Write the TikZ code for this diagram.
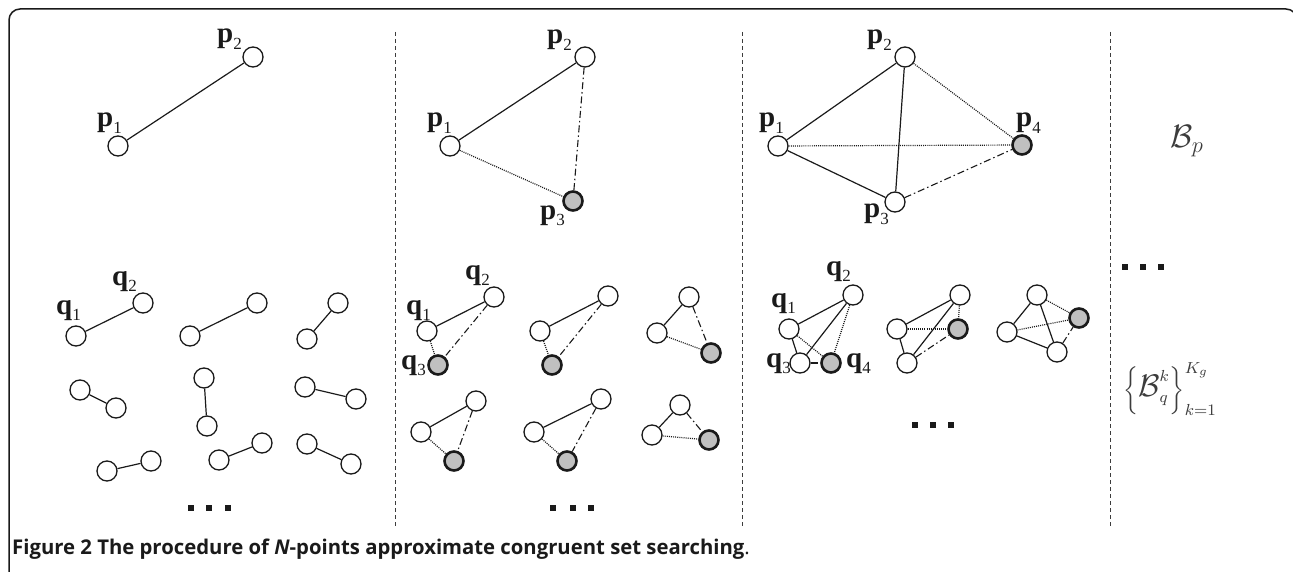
\documentclass[tikz,border=0pt]{standalone}
\usepackage{fontspec}
\usepackage{graphicx}
\setmainfont{Liberation Serif}
\newfontfamily\capfont{Open Sans}
\definecolor{ink}{HTML}{1A1A1A}
\definecolor{gfill}{HTML}{C0C0C0}
\newcommand{\pq}[2]{\textbf{#1}\raisebox{-0.22em}{\fontsize{17}{17}\selectfont #2}}
\tikzset{
  wn/.style={circle,draw=ink,fill=white,line width=1.3pt,minimum size=20pt,inner sep=0pt},
  gn/.style={circle,draw=ink,fill=gfill,line width=2.6pt,minimum size=19pt,inner sep=0pt},
  sol/.style={draw=ink,line width=1.2pt},
  dotl/.style={draw=ink,line width=1.2pt,dash pattern=on 1pt off 1.1pt},
  ddl/.style={draw=ink,line width=1.1pt,dash pattern=on 7pt off 3pt on 1.5pt off 3pt},
  lb/.style={anchor=base west,inner sep=0pt,font=\fontsize{29}{29}\selectfont,text=ink},
  sep/.style={draw=ink!85,line width=1pt,dash pattern=on 4pt off 3pt},
  dotsq/.style={fill=ink,minimum size=6pt,inner sep=0pt,draw=none,rectangle}
}
\begin{document}
\begin{tikzpicture}[x=1pt,y=-1pt]
\useasboundingbox (0,0) rectangle (1293,572);
\clip (0,0) rectangle (1293,572);
\draw[ink,line width=1.5pt,rounded corners=11pt] (9,9) rectangle (1297,700);
% separators
\coordinate (s1a) at (395,32); \coordinate (s1b) at (395,527);
\coordinate (s2a) at (742,32); \coordinate (s2b) at (742,527);
\coordinate (s3a) at (1110,32); \coordinate (s3b) at (1110,527);
\draw[sep] (s1a) -- (s1b);
\draw[sep] (s2a) -- (s2b);
\draw[sep] (s3a) -- (s3b);
% ---------- panel 1 ----------
\node[wn] (A1) at (118,146) {};
\node[wn] (A2) at (253,57) {};
\draw[sol] (A1) -- (A2);
\node[lb] (LA1) at (97,127) {\pq{p}{1}};
\node[lb] (LA2) at (217,43) {\pq{p}{2}};
% pairs
\node[wn] (a1) at (76,336) {}; \node[wn] (a2) at (143,303) {}; \draw[sol] (a1) -- (a2);
\node[lb] (La1) at (56,314) {\pq{q}{1}};
\node[lb] (La2) at (112,285) {\pq{q}{2}};
\node[wn] (b1) at (190,336) {}; \node[wn] (b2) at (257,303) {}; \draw[sol] (b1) -- (b2);
\node[wn] (c1) at (307,339) {}; \node[wn] (c2) at (338,303) {}; \draw[sol] (c1) -- (c2);
\node[wn] (d1) at (80,390) {}; \node[wn] (d2) at (116,408) {}; \draw[sol] (d1) -- (d2);
\node[wn] (e1) at (204,378) {}; \node[wn] (e2) at (207,426) {}; \draw[sol] (e1) -- (e2);
\node[wn] (f1) at (305,387) {}; \node[wn] (f2) at (356,399) {}; \draw[sol] (f1) -- (f2);
\node[wn] (g1) at (107,471) {}; \node[wn] (g2) at (151,461) {}; \draw[sol] (g1) -- (g2);
\node[wn] (h1) at (219,460) {}; \node[wn] (h2) at (262,443) {}; \draw[sol] (h1) -- (h2);
\node[wn] (i1) at (307,444) {}; \node[wn] (i2) at (351,464) {}; \draw[sol] (i1) -- (i2);
\node[dotsq] (D1a) at (191,508) {}; \node[dotsq] (D1b) at (209,508) {}; \node[dotsq] (D1c) at (228,508) {};
% ---------- panel 2 ----------
\node[wn] (B1) at (450,146) {};
\node[wn] (B2) at (585,57) {};
\node[gn] (B3) at (573,201) {};
\draw[sol] (B1) -- (B2);
\draw[ddl] (B2) -- (B3);
\draw[dotl] (B1) -- (B3);
\node[lb] (LB1) at (427,127) {\pq{p}{1}};
\node[lb] (LB2) at (547,44) {\pq{p}{2}};
\node[lb] (LB3) at (540,219) {\pq{p}{3}};
% triangles
\node[wn] (j1) at (427,331) {}; \node[wn] (j2) at (494,297) {}; \node[gn] (j3) at (438,365) {};
\draw[sol] (j1) -- (j2); \draw[ddl] (j2) -- (j3); \draw[dotl] (j1) -- (j3);
\node[lb] (Lj1) at (406,314) {\pq{q}{1}};
\node[lb] (Lj2) at (465,279) {\pq{q}{2}};
\node[lb] (Lj3) at (401,369) {\pq{q}{3}};
\node[wn] (k1) at (540,331) {}; \node[wn] (k2) at (608,296) {}; \node[gn] (k3) at (552,365) {};
\draw[sol] (k1) -- (k2); \draw[ddl] (k2) -- (k3); \draw[dotl] (k1) -- (k3);
\node[wn] (l1) at (657,333) {}; \node[wn] (l2) at (689,297) {}; \node[gn] (l3) at (711,353) {};
\draw[sol] (l1) -- (l2); \draw[ddl] (l2) -- (l3); \draw[dotl] (l1) -- (l3);
\node[wn] (m1) at (421,432) {}; \node[wn] (m2) at (476,401) {}; \node[gn] (m3) at (454,461) {};
\draw[sol] (m1) -- (m2); \draw[ddl] (m2) -- (m3); \draw[dotl] (m1) -- (m3);
\node[wn] (n1) at (534,432) {}; \node[wn] (n2) at (601,399) {}; \node[gn] (n3) at (567,461) {};
\draw[sol] (n1) -- (n2); \draw[ddl] (n2) -- (n3); \draw[dotl] (n1) -- (n3);
\node[wn] (o1) at (652,435) {}; \node[wn] (o2) at (680,405) {}; \node[gn] (o3) at (709,440) {};
\draw[sol] (o1) -- (o2); \draw[ddl] (o2) -- (o3); \draw[dotl] (o1) -- (o3);
\node[dotsq] (D2a) at (553,508) {}; \node[dotsq] (D2b) at (573,508) {}; \node[dotsq] (D2c) at (591,508) {};
% ---------- panel 3 ----------
\node[wn] (C1) at (778,146) {};
\node[wn] (C2) at (905,57) {};
\node[wn] (C3) at (895,202) {};
\node[gn] (C4) at (1022,145) {};
\draw[sol] (C1) -- (C2);
\draw[sol] (C1) -- (C3);
\draw[sol] (C2) -- (C3);
\draw[dotl] (C1) -- (C4);
\draw[dotl] (C2) -- (C4);
\draw[ddl] (C3) -- (C4);
\node[lb] (LC1) at (759,127) {\pq{p}{1}};
\node[lb] (LC2) at (867,44) {\pq{p}{2}};
\node[lb] (LC3) at (864,218) {\pq{p}{3}};
\node[lb] (LC4) at (1016,127) {\pq{p}{4}};
% tetrahedra
\node[wn] (r1) at (789,329) {}; \node[wn] (r2) at (853,295) {}; \node[wn] (r3) at (800,363) {}; \node[gn] (r4) at (831,363) {};
\draw[sol] (r1) -- (r2); \draw[sol] (r1) -- (r3); \draw[sol] (r2) -- (r3);
\draw[dotl] (r1) -- (r4); \draw[dotl] (r2) -- (r4); \draw[ddl] (r3) -- (r4);
\node[lb] (Lr1) at (771,307) {\pq{q}{1}};
\node[lb] (Lr2) at (826,275) {\pq{q}{2}};
\node[lb] (Lr3) at (766,367) {\pq{q}{3}};
\node[lb] (Lr4) at (846,367) {\pq{q}{4}};
\node[wn] (s1) at (897,329) {}; \node[wn] (s2) at (960,295) {}; \node[wn] (s3) at (907,363) {}; \node[gn] (s4) at (958,329) {};
\draw[sol] (s1) -- (s2); \draw[sol] (s1) -- (s3); \draw[sol] (s2) -- (s3);
\draw[dotl] (s1) -- (s4); \draw[dotl] (s2) -- (s4); \draw[ddl] (s3) -- (s4);
\node[wn] (t1) at (1007,332) {}; \node[wn] (t2) at (1037,295) {}; \node[wn] (t3) at (1057,352) {}; \node[gn] (t4) at (1079,318) {};
\draw[sol] (t1) -- (t2); \draw[sol] (t1) -- (t3); \draw[sol] (t2) -- (t3);
\draw[dotl] (t1) -- (t4); \draw[dotl] (t2) -- (t4); \draw[ddl] (t3) -- (t4);
\node[dotsq] (D3a) at (915,425) {}; \node[dotsq] (D3b) at (933,425) {}; \node[dotsq] (D3c) at (951,425) {};
% ---------- panel 4 ----------
\node[font=\fontsize{24}{24}\selectfont,text=ink!85,inner sep=0pt] (Bp) at (1187,141) {\scalebox{1.3}{$\mathcal{B}_p$}};
\node[dotsq] (D4a) at (1125,267) {}; \node[dotsq] (D4b) at (1143,267) {}; \node[dotsq] (D4c) at (1161,267) {};
\node[font=\fontsize{12}{12}\selectfont,text=ink!85,inner sep=0pt] (Bq) at (1170,389)
  {\scalebox{2.0}{$\biggl\{\mbox{\scalebox{1.3}{$\mathcal{B}$}}_{q}^{k}\biggr\}_{k=1}^{K_g}$}};
% caption
\node[anchor=base west,inner sep=0pt,font=\capfont\fontsize{20.3}{20.3}\selectfont,text=ink] (cap) at (12,554)
  {\textbf{Figure 2 The procedure of \textit{N}-points approximate congruent set searching}.};
\end{tikzpicture}
\end{document}
